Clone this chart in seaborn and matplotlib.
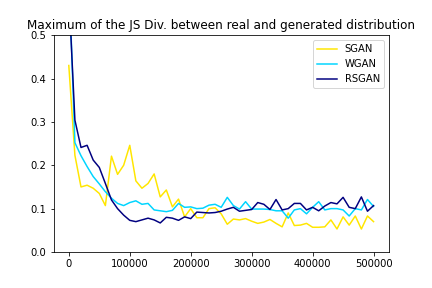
import numpy as np
import pandas as pd
import matplotlib
matplotlib.use("Agg")
import matplotlib.pyplot as plt
import seaborn as sns

iterations = list(range(0, 500001, 10000))

sgan = [0.43, 0.223, 0.150, 0.154, 0.147, 0.135, 0.107, 0.221, 0.179, 0.200,
        0.246, 0.164, 0.147, 0.158, 0.180, 0.127, 0.143, 0.104, 0.122, 0.081,
        0.100, 0.079, 0.079, 0.100, 0.102, 0.088, 0.064, 0.076, 0.074, 0.077,
        0.071, 0.066, 0.069, 0.075, 0.066, 0.058, 0.090, 0.061, 0.062, 0.066,
        0.057, 0.057, 0.058, 0.074, 0.053, 0.081, 0.062, 0.083, 0.053, 0.083,
        0.070]

wgan = [0.65, 0.252, 0.222, 0.197, 0.174, 0.157, 0.139, 0.124, 0.112, 0.107,
        0.114, 0.118, 0.110, 0.112, 0.097, 0.095, 0.093, 0.096, 0.112, 0.103,
        0.104, 0.100, 0.101, 0.108, 0.110, 0.103, 0.126, 0.107, 0.099, 0.116,
        0.099, 0.099, 0.099, 0.098, 0.095, 0.095, 0.078, 0.097, 0.100, 0.088,
        0.103, 0.116, 0.097, 0.100, 0.100, 0.097, 0.083, 0.100, 0.097, 0.121,
        0.105]

rsgan = [0.60, 0.304, 0.241, 0.246, 0.212, 0.195, 0.158, 0.120, 0.100, 0.085,
         0.073, 0.070, 0.074, 0.078, 0.074, 0.067, 0.080, 0.078, 0.073, 0.081,
         0.077, 0.092, 0.091, 0.090, 0.091, 0.094, 0.099, 0.103, 0.094, 0.096,
         0.098, 0.114, 0.110, 0.098, 0.121, 0.097, 0.100, 0.112, 0.112, 0.097,
         0.103, 0.095, 0.106, 0.114, 0.111, 0.126, 0.103, 0.100, 0.127, 0.094,
         0.107]

labels = ["SGAN", "WGAN", "RSGAN"]
title = "Maximum of the JS Div. between real and generated distribution"

jet = matplotlib.colormaps["jet"]
palette = {"SGAN": jet(2 / 3), "WGAN": jet(1 / 3), "RSGAN": jet(0.0)}

df = pd.concat([
    pd.DataFrame({"iteration": iterations, "value": vals, "model": name})
    for name, vals in zip(labels, [sgan, wgan, rsgan])
], ignore_index=True)

fig = plt.figure(figsize=(6, 4), dpi=72)
ax = fig.add_axes([0.124, 0.125, 0.776, 0.753])
sns.lineplot(data=df, x="iteration", y="value", hue="model",
             hue_order=labels, palette=palette, ax=ax, linewidth=1.5)
ax.set_ylim(0, 0.5)
ax.set_xlabel("")
ax.set_ylabel("")
ax.set_title(title, fontsize=12)
ax.legend(loc="upper right")
fig.savefig("out.png", dpi=72)
